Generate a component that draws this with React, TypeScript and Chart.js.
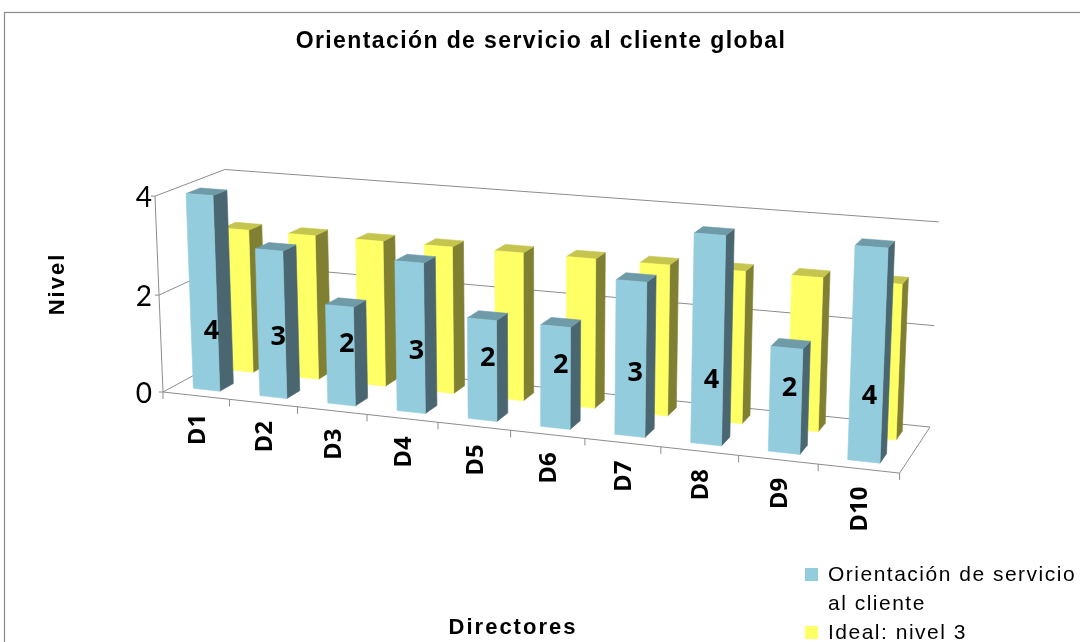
import { useEffect, useRef } from 'react';
import { Chart, registerables } from 'chart.js';

Chart.register(...registerables);

// ---- data ----
const categories = ['D1', 'D2', 'D3', 'D4', 'D5', 'D6', 'D7', 'D8', 'D9', 'D10'];
const orientacion = [4, 3, 2, 3, 2, 2, 3, 4, 2, 4];
const idealNivel = [3, 3, 3, 3, 3, 3, 3, 3, 3, 3];
const valueTicks = [0, 2, 4];
const seriesNames = ['Orientación de servicio al cliente', 'Ideal: nivel 3'];
const chartTitle = 'Orientación de servicio al cliente global';
const xTitle = 'Directores';
const yTitle = 'Nivel';

// ---- look ----
const faceColors = [
  { front: '#93CDDD', top: '#6F9BA8', side: '#4A6670' },
  { front: '#FFFF66', top: '#C4C44E', side: '#808033' },
];
const gridColor = '#8C8C8C';
const gapDepth = 1.5; // gap between rows in depth, relative to bar depth
const valueLabelHeight = 1.15; // value-axis height where the data labels sit
const numberFont = 'Lato, "Open Sans", sans-serif';
const boldNumberFont = '"Open Sans", Lato, sans-serif';

// Screen anchors of the 3-D plot box: [u across categories, v up the value axis, w into depth, x, y]
const boxAnchors: number[][] = [
  [0, 0, 0, 163, 392],
  [0, 1, 0, 155, 195],
  [0, 1, 1, 225, 169],
  [0, 0, 1, 231, 357],
  [1, 0, 0, 901, 473],
  [1, 0, 1, 930, 426],
  [1, 1, 1, 939, 221],
  [1, 1, 0, 908, 258],
  [1, 0.5, 1, 934, 326],
  [0.1, 0, 0, 230, 399.4],
  [0.2, 0, 0, 298, 406.8],
  [0.3, 0, 0, 367, 414.4],
  [0.4, 0, 0, 437, 422.1],
  [0.5, 0, 0, 510, 430.1],
  [0.6, 0, 0, 585, 438.3],
  [0.7, 0, 0, 660, 446.6],
  [0.8, 0, 0, 739, 455.2],
  [0.9, 0, 0, 818, 463.9],
];

// Fit a perspective camera (3x4 projective matrix) to the anchors by least squares.
function fitProjection(pts: number[][]) {
  const cx = 540, cy = 320, s = 500;
  const rows: number[][] = [];
  const rhs: number[] = [];
  for (const [X, Y, Z, x0, y0] of pts) {
    const x = (x0 - cx) / s;
    const y = (y0 - cy) / s;
    rows.push([X, Y, Z, 1, 0, 0, 0, 0, -x * X, -x * Y, -x * Z]);
    rhs.push(x);
    rows.push([0, 0, 0, 0, X, Y, Z, 1, -y * X, -y * Y, -y * Z]);
    rhs.push(y);
  }
  const n = 11;
  const M: number[][] = [];
  for (let i = 0; i < n; i++) {
    const r: number[] = [];
    for (let j = 0; j < n; j++) {
      let acc = 0;
      for (let k = 0; k < rows.length; k++) acc += rows[k][i] * rows[k][j];
      r.push(acc);
    }
    let acc = 0;
    for (let k = 0; k < rows.length; k++) acc += rows[k][i] * rhs[k];
    r.push(acc);
    M.push(r);
  }
  for (let c = 0; c < n; c++) {
    let piv = c;
    for (let r = c + 1; r < n; r++) if (Math.abs(M[r][c]) > Math.abs(M[piv][c])) piv = r;
    [M[c], M[piv]] = [M[piv], M[c]];
    for (let r = 0; r < n; r++) {
      if (r === c) continue;
      const f = M[r][c] / M[c][c];
      for (let k = c; k <= n; k++) M[r][k] -= f * M[c][k];
    }
  }
  const p = M.map((r, i) => r[n] / r[i]);
  return (u: number, v: number, w: number): [number, number] => {
    const d = p[8] * u + p[9] * v + p[10] * w + 1;
    const x = (p[0] * u + p[1] * v + p[2] * w + p[3]) / d;
    const y = (p[4] * u + p[5] * v + p[6] * w + p[7]) / d;
    return [x * s + cx, y * s + cy];
  };
}

const project = fitProjection(boxAnchors);

function polyArea(pts: [number, number][]) {
  let a = 0;
  for (let i = 0; i < pts.length; i++) {
    const [x1, y1] = pts[i];
    const [x2, y2] = pts[(i + 1) % pts.length];
    a += x1 * y2 - x2 * y1;
  }
  return a / 2;
}

function fillPoly(ctx: CanvasRenderingContext2D, pts: [number, number][], color: string) {
  ctx.beginPath();
  pts.forEach(([x, y], i) => (i ? ctx.lineTo(x, y) : ctx.moveTo(x, y)));
  ctx.closePath();
  ctx.fillStyle = color;
  ctx.fill();
  ctx.strokeStyle = color;
  ctx.lineWidth = 0.6;
  ctx.stroke();
}

function line(ctx: CanvasRenderingContext2D, a: [number, number], b: [number, number]) {
  ctx.beginPath();
  ctx.moveTo(a[0], a[1]);
  ctx.lineTo(b[0], b[1]);
  ctx.stroke();
}

function wrapText(ctx: CanvasRenderingContext2D, text: string, maxWidth: number) {
  const words = text.split(' ');
  const out: string[] = [];
  let cur = '';
  for (const w of words) {
    const next = cur ? cur + ' ' + w : w;
    if (cur && ctx.measureText(next).width > maxWidth) {
      out.push(cur);
      cur = w;
    } else cur = next;
  }
  if (cur) out.push(cur);
  return out;
}

const box3d = {
  id: 'box3d',
  beforeDatasetsDraw(chart: any) {
    const ctx: CanvasRenderingContext2D = chart.ctx;
    const xs = chart.scales.x;
    const ys = chart.scales.y;
    const uOf = (px: number) => (px - xs.left) / xs.width;
    const vOf = (py: number) => (ys.bottom - py) / ys.height;
    const nCat = categories.length;
    const nSeries = chart.data.datasets.length;

    ctx.save();

    // outer frame
    ctx.strokeStyle = '#8A8A8A';
    ctx.lineWidth = 1.2;
    ctx.strokeRect(4.5, 12.5, 1300, 900);

    // walls: gridlines on back and side wall
    ctx.strokeStyle = gridColor;
    ctx.lineWidth = 1;
    for (const t of valueTicks) {
      const v = vOf(ys.getPixelForValue(t));
      line(ctx, project(0, v, 1), project(1, v, 1));
      line(ctx, project(0, v, 0), project(0, v, 1));
    }
    // floor outline and axes
    line(ctx, project(0, 0, 0), project(1, 0, 0));
    line(ctx, project(1, 0, 0), project(1, 0, 1));
    line(ctx, project(0, 0, 0), project(0, 1, 0));
    for (let k = 0; k <= nCat; k++) {
      const u = uOf(xs.getPixelForValue(k - 0.5));
      const [tx, ty] = project(u, 0, 0);
      line(ctx, [tx, ty], [tx, ty + 7]);
    }
    for (const t of valueTicks) {
      const v = vOf(ys.getPixelForValue(t));
      const [tx, ty] = project(0, v, 0);
      line(ctx, [tx - 4, ty], [tx, ty]);
    }

    // bars: back row first, left to right
    const slot = 1 / nSeries;
    const barDepth = slot / (1 + gapDepth);
    for (let d = nSeries - 1; d >= 0; d--) {
      const meta = chart.getDatasetMeta(d);
      const col = faceColors[d];
      const w0 = d * slot + (slot - barDepth) / 2;
      const w1 = w0 + barDepth;
      meta.data.forEach((el: any) => {
        const { x, width, y, base } = el.getProps(['x', 'width', 'y', 'base'], true);
        const uL = uOf(x - width / 2);
        const uR = uOf(x + width / 2);
        const v0 = vOf(base);
        const v1 = vOf(y);
        const front: [number, number][] = [
          project(uL, v0, w0), project(uR, v0, w0), project(uR, v1, w0), project(uL, v1, w0),
        ];
        const right: [number, number][] = [
          project(uR, v0, w0), project(uR, v0, w1), project(uR, v1, w1), project(uR, v1, w0),
        ];
        const left: [number, number][] = [
          project(uL, v0, w0), project(uL, v1, w0), project(uL, v1, w1), project(uL, v0, w1),
        ];
        const top: [number, number][] = [
          project(uL, v1, w0), project(uR, v1, w0), project(uR, v1, w1), project(uL, v1, w1),
        ];
        const sgn = Math.sign(polyArea(front));
        if (Math.sign(polyArea(left)) === sgn) fillPoly(ctx, left, col.side);
        if (Math.sign(polyArea(right)) === sgn) fillPoly(ctx, right, col.side);
        if (Math.sign(polyArea(top)) === sgn) fillPoly(ctx, top, col.top);
        fillPoly(ctx, front, col.front);
      });
    }

    // data labels on the front row
    {
      const meta = chart.getDatasetMeta(0);
      const w0 = (slot - barDepth) / 2;
      const wc = w0 + barDepth / 2;
      const vl = vOf(ys.getPixelForValue(valueLabelHeight));
      ctx.fillStyle = '#000';
      ctx.font = `bold 27px ${boldNumberFont}`;
      ctx.textAlign = 'center';
      ctx.textBaseline = 'middle';
      meta.data.forEach((el: any, i: number) => {
        const [lx, ly] = project(uOf(el.x), vl, wc);
        ctx.fillText(String(chart.data.datasets[0].data[i]), lx, ly);
      });
    }

    // value-axis tick labels
    ctx.fillStyle = '#000';
    ctx.font = `28px ${numberFont}`;
    ctx.textAlign = 'right';
    ctx.textBaseline = 'middle';
    const axisRight = project(0, 1, 0)[0] - 3;
    for (const t of valueTicks) {
      const [, ty] = project(0, vOf(ys.getPixelForValue(t)), 0);
      ctx.fillText(String(t), axisRight, ty + 2);
    }

    // category labels, rotated
    ctx.font = `bold 24px ${boldNumberFont}`;
    categories.forEach((c, i) => {
      const [cx, cy] = project(uOf(xs.getPixelForValue(i)), 0, 0);
      ctx.save();
      ctx.translate(cx + 2, cy + 18);
      ctx.rotate(-Math.PI / 2);
      ctx.textAlign = 'right';
      ctx.textBaseline = 'middle';
      ctx.fillText(c, 0, 0);
      ctx.restore();
    });

    // title and axis titles
    (ctx as any).letterSpacing = '1.4px';
    ctx.font = 'bold 23px "Liberation Sans"';
    ctx.textAlign = 'center';
    ctx.textBaseline = 'alphabetic';
    ctx.fillText(chartTitle, 541, 48);
    (ctx as any).letterSpacing = '2px';
    ctx.font = 'bold 22px "Liberation Sans"';
    ctx.textBaseline = 'middle';
    ctx.fillText(xTitle, 513, 628);
    ctx.save();
    ctx.translate(58, 284);
    ctx.rotate(-Math.PI / 2);
    ctx.fillText(yTitle, 0, 0);
    ctx.restore();

    // legend
    (ctx as any).letterSpacing = '1.5px';
    ctx.font = '21px "Liberation Sans"';
    ctx.textAlign = 'left';
    ctx.textBaseline = 'alphabetic';
    let baseline = 581;
    chart.data.datasets.forEach((ds: any) => {
      ctx.fillStyle = ds.backgroundColor;
      ctx.fillRect(805, baseline - 13, 13, 13);
      ctx.fillStyle = '#000';
      for (const ln of wrapText(ctx, ds.label, 262)) {
        ctx.fillText(ln, 828, baseline);
        baseline += 29;
      }
    });
    (ctx as any).letterSpacing = '0px';

    ctx.restore();
    return false;
  },
};

export default function App() {
  const ref = useRef<HTMLCanvasElement>(null);
  useEffect(() => {
    if (!ref.current) return;
    let alive = true;
    const chart = new Chart(ref.current, {
      type: 'bar',
      data: {
        labels: categories,
        datasets: [
          { label: seriesNames[0], data: orientacion, backgroundColor: faceColors[0].front },
          { label: seriesNames[1], data: idealNivel, backgroundColor: faceColors[1].front },
        ],
      },
      options: {
        responsive: false,
        animation: false,
        events: [],
        layout: { padding: 0 },
        datasets: { bar: { categoryPercentage: 0.4, barPercentage: 1, grouped: false } },
        plugins: {
          legend: { display: false },
          title: { display: false },
          tooltip: { enabled: false },
        },
        scales: {
          x: { display: false, offset: true },
          y: { display: false, min: 0, max: 4 },
        },
      },
      plugins: [box3d],
    } as any);
    // redraw once the system fonts used on the canvas are ready
    Promise.all([
      document.fonts.load('bold 27px "Open Sans"'),
      document.fonts.load('28px Lato'),
      document.fonts.load('bold 23px "Liberation Sans"'),
      document.fonts.load('21px "Liberation Sans"'),
    ]).then(() => {
      if (alive) chart.render();
    }).catch(() => {});
    return () => {
      alive = false;
      chart.destroy();
    };
  }, []);
  return (
    <div style={{ position: 'absolute', left: 0, top: 0, width: 1080, height: 642, background: '#fff' }}>
      <canvas ref={ref} width={1080} height={642} style={{ display: 'block' }} />
    </div>
  );
}
